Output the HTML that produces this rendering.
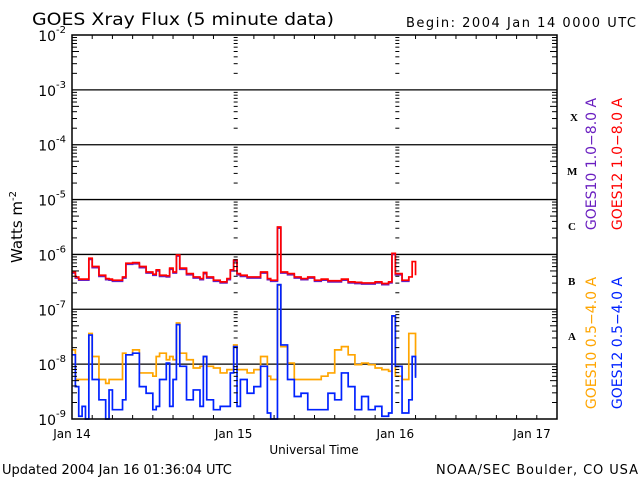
<!DOCTYPE html>
<html><head><meta charset="utf-8"><style>
body{margin:0;background:#fff;}
svg{display:block;font-family:"DejaVu Sans","Liberation Sans",sans-serif;}
</style></head><body>
<svg id="chart" width="640" height="480" viewBox="0 0 640 480">
<rect width="640" height="480" fill="#fff"/>
<text x="32" y="25" font-size="17" textLength="302" lengthAdjust="spacingAndGlyphs">GOES Xray Flux (5 minute data)</text>
<text x="406" y="27" font-size="13" textLength="230" lengthAdjust="spacing">Begin:  2004 Jan 14 0000 UTC</text>
<text x="2" y="474" font-size="13">Updated 2004 Jan 16 01:36:04 UTC</text>
<text x="436" y="474" font-size="13" textLength="202" lengthAdjust="spacing">NOAA/SEC Boulder, CO USA</text>
<text x="314" y="454" font-size="12" text-anchor="middle">Universal Time</text>
<text transform="translate(22,227) rotate(-90)" font-size="15" text-anchor="middle">Watts m<tspan font-size="10" dy="-6">-2</tspan></text>
<g id="grid"></g><g id="series"></g><g id="axes"></g>
<text x="570" y="121" font-size="11" font-weight="bold" font-family="Liberation Serif,serif">X</text>
<text x="567" y="175" font-size="11" font-weight="bold" font-family="Liberation Serif,serif">M</text>
<text x="568" y="230" font-size="11" font-weight="bold" font-family="Liberation Serif,serif">C</text>
<text x="568" y="285" font-size="11" font-weight="bold" font-family="Liberation Serif,serif">B</text>
<text x="568" y="340" font-size="11" font-weight="bold" font-family="Liberation Serif,serif">A</text>
<text transform="translate(596,164) rotate(-90)" font-size="14" fill="#6a1fc0" text-anchor="middle">GOES10 1.0−8.0 A</text>
<text transform="translate(622,164) rotate(-90)" font-size="14" fill="#ff0000" text-anchor="middle">GOES12 1.0−8.0 A</text>
<text transform="translate(596,343) rotate(-90)" font-size="14" fill="#ffa500" text-anchor="middle">GOES10 0.5−4.0 A</text>
<text transform="translate(622,343) rotate(-90)" font-size="14" fill="#0022ff" text-anchor="middle">GOES12 0.5−4.0 A</text>
</svg>
<script>
const hours=[0,0.5,1,1.5,2,2.5,3,4,5,5.5,6,7,7.5,8,9,10,11,12,12.5,13,14,14.5,15,15.5,16,17,18,19,19.5,20,21,22,23,23.5,24,24.5,25,26,27,28,29,29.5,30,30.5,31,32,33,34,35,36,37,38,39,40,41,42,43,44,45,46,47,47.5,48,49,50,50.5,51];
const goes12Long=[-6.32,-6.41,-6.45,-6.45,-6.45,-6.07,-6.22,-6.38,-6.44,-6.45,-6.47,-6.47,-6.41,-6.16,-6.15,-6.22,-6.32,-6.36,-6.28,-6.38,-6.39,-6.25,-6.32,-6.01,-6.25,-6.35,-6.41,-6.44,-6.33,-6.41,-6.47,-6.5,-6.44,-6.28,-6.1,-6.35,-6.38,-6.41,-6.41,-6.32,-6.44,-6.47,-6.47,-5.5,-6.32,-6.35,-6.41,-6.44,-6.41,-6.47,-6.45,-6.48,-6.48,-6.45,-6.5,-6.51,-6.52,-6.52,-6.5,-6.53,-6.5,-5.98,-6.35,-6.47,-6.41,-6.13,-6.38];
const goes10Long=[-6.34,-6.43,-6.47,-6.47,-6.47,-6.09,-6.24,-6.4,-6.46,-6.47,-6.49,-6.49,-6.43,-6.18,-6.17,-6.24,-6.34,-6.38,-6.3,-6.4,-6.41,-6.27,-6.34,-6.03,-6.27,-6.37,-6.43,-6.46,-6.35,-6.43,-6.49,-6.52,-6.46,-6.3,-6.12,-6.37,-6.4,-6.43,-6.43,-6.34,-6.46,-6.49,-6.49,-5.52,-6.34,-6.37,-6.43,-6.46,-6.43,-6.49,-6.47,-6.5,-6.5,-6.47,-6.52,-6.53,-6.54,-6.54,-6.52,-6.55,-6.52,-6.0,-6.37,-6.49,-6.43];
const goes10Short=[-7.74,-8.28,-8.28,-8.28,-8.28,-7.44,-7.86,-8.28,-8.35,-8.28,-8.28,-8.28,-7.8,-7.83,-7.74,-8.16,-8.16,-8.22,-7.86,-7.8,-7.92,-7.86,-7.92,-7.25,-7.8,-7.92,-8.07,-8.04,-7.86,-8.04,-8.07,-8.16,-8.1,-8.1,-7.65,-8.1,-8.1,-8.16,-8.1,-7.86,-8.22,-8.28,-8.28,-6.56,-7.68,-7.98,-8.28,-8.28,-8.28,-8.28,-8.22,-8.16,-7.74,-7.68,-7.83,-8.01,-7.98,-8.01,-8.07,-8.1,-8.13,-7.13,-8.22,-8.28,-7.44,-7.44,-8.22];
const goes12Short=[-7.83,-8.41,-8.95,-8.77,-9.01,-7.47,-8.28,-8.65,-9.01,-8.47,-8.83,-8.83,-8.65,-7.83,-7.8,-8.41,-8.53,-8.83,-8.77,-8.28,-7.98,-8.77,-8.28,-7.28,-8.04,-8.65,-8.47,-8.77,-7.86,-8.65,-8.83,-8.77,-8.77,-8.16,-7.68,-8.77,-8.28,-8.53,-8.41,-8.04,-8.89,-9.01,-9.01,-6.55,-7.65,-8.28,-8.59,-8.53,-8.83,-8.83,-8.83,-8.53,-8.65,-8.16,-8.41,-8.83,-8.59,-8.83,-8.77,-8.95,-8.89,-7.12,-8.04,-8.89,-8.65,-7.86,-8.25];
const decadeLabels=[-2,-3,-4,-5,-6,-7,-8,-9];
const dayLabels=["Jan 14","Jan 15","Jan 16","Jan 17"];

const NS="http://www.w3.org/2000/svg";
const X0=72,X1=557,YT=35,YB=419;
const xs=h=>X0+h*(X1-X0)/72;
const ys=l=>Math.min(YB,YT+(-2-l)*(YB-YT)/7);
function mk(tag,attrs,parent){const e=document.createElementNS(NS,tag);for(const k in attrs)e.setAttribute(k,attrs[k]);parent.appendChild(e);return e;}
const grid=document.getElementById('grid'),axes=document.getElementById('axes'),ser=document.getElementById('series');

decadeLabels.forEach(d=>{
  const y=ys(d);
  if(d<-2&&d>-9){const ln=mk('line',{x1:X0,x2:X1,y1:y,y2:y,stroke:'#000','stroke-width':1.3},grid);
  
  }
  const t=mk('text',{x:X0-6,y:y+6,'font-size':14,'text-anchor':'end'},axes);
  
  
  t.textContent='10';
  const sp=mk('tspan',{'font-size':10,dy:-8},t);sp.textContent=String(d);
  if(d>-9){for(let m=2;m<=9;m++){const yy=ys(d-1+Math.log10(m));
    const len=(m===5)?7:5;
    [X0,X1,xs(24),xs(48)].forEach((xx,i)=>{
      let a,b; if(i===0){a=X0;b=X0+len;}else if(i===1){a=X1-len;b=X1;}else{a=xx;b=xx+4;}
      mk('line',{x1:a,x2:b,y1:yy,y2:yy,stroke:'#000','stroke-width':1},axes);});}}
});
for(let h=0;h<=72;h+=3){const x=xs(h);const big=h%24===0;
  mk('line',{x1:x,x2:x,y1:YT,y2:YT+(big?0:4),stroke:'#000'},axes);
  mk('line',{x1:x,x2:x,y1:YB,y2:YB-(big?0:4),stroke:'#000'},axes);}
dayLabels.forEach((lab,i)=>{const t=mk('text',{x:i===3?532:xs(24*i),y:438,'font-size':12,'text-anchor':'middle'},axes);
  
  
  t.textContent=lab;});
const frame=mk('rect',{x:X0,y:YT,width:X1-X0,height:YB-YT,fill:'none',stroke:'#000','stroke-width':1.5},axes);



function drawSeries(vals,color,name){
  let d='';
  vals.forEach((v,i)=>{const x=xs(hours[i]),y=ys(v);
    if(i===0)d+='M'+x+','+y;else d+='H'+x+'V'+y;});
  const p=mk('path',{d:d,fill:'none',stroke:color,'stroke-width':1.7},ser);
  
  
}
drawSeries(goes10Short,'#ffa500','series-goes10-short');
drawSeries(goes12Short,'#0022ff','series-goes12-short');
drawSeries(goes10Long,'#6a1fc0','series-goes10-long');
drawSeries(goes12Long,'#ff0000','series-goes12-long');
</script>
</body></html>
